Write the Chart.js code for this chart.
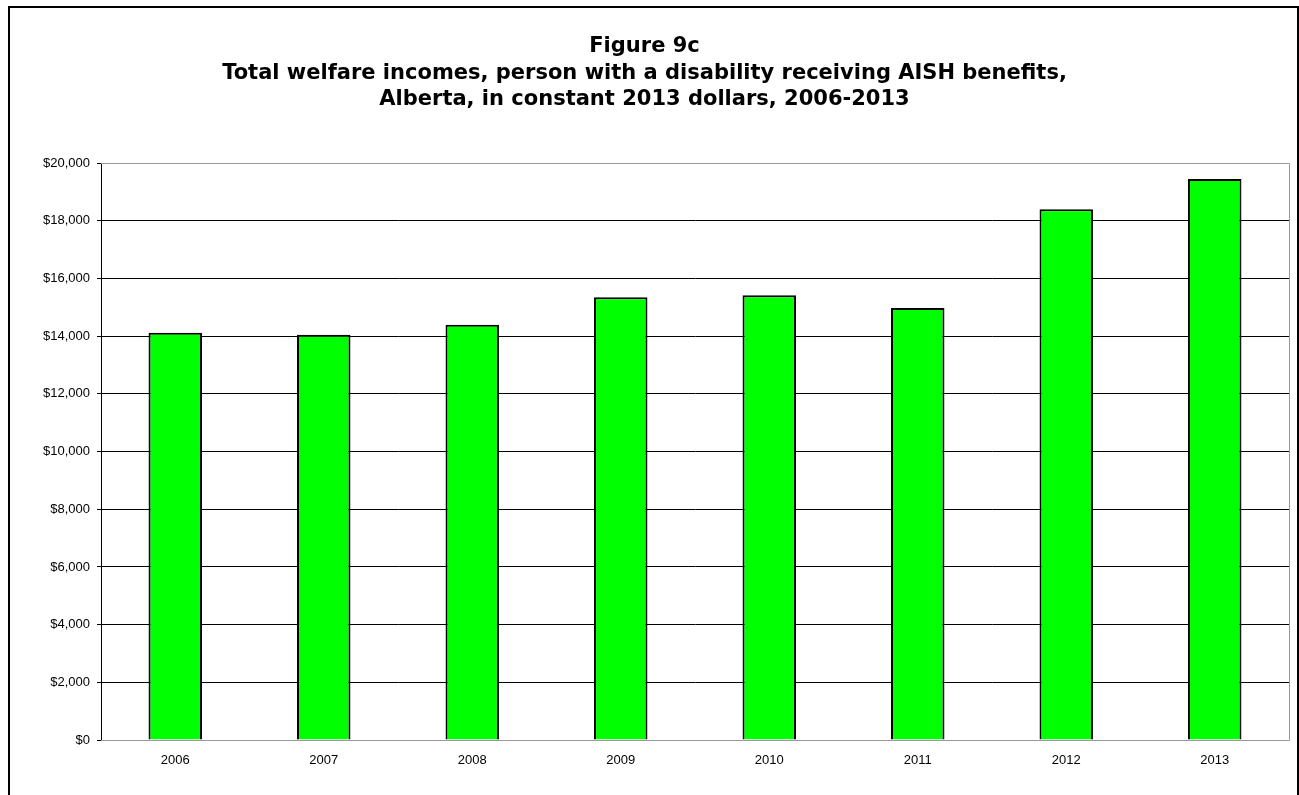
<!DOCTYPE html>
<html>
<head>
<meta charset="utf-8">
<script src="https://cdn.jsdelivr.net/npm/chart.js@4/dist/chart.umd.min.js"></script>
<style>
  html, body { margin: 0; padding: 0; background: #fff; }
  #wrap { width: 1299px; height: 795px; }
</style>
</head>
<body>
<div id="wrap"><canvas id="barChart"></canvas></div>
<script>
// values (constant 2013 dollars)
const years = ['2006', '2007', '2008', '2009', '2010', '2011', '2012', '2013'];
const welfareIncome = [14120, 14050, 14400, 15350, 15420, 14980, 18400, 19450];
const titleLines = [
  'Figure 9c',
  'Total welfare incomes, person with a disability receiving AISH benefits,',
  'Alberta, in constant 2013 dollars, 2006-2013'
];
const yMin = 0;
const yMax = 20000;
const yStep = 2000;

Chart.defaults.font.family = 'Arial, "Liberation Sans", sans-serif';
Chart.defaults.color = '#000';

// white page + frame round the whole figure
const framePlugin = {
  id: 'frame',
  beforeDraw(chart) {
    const ctx = chart.ctx;
    ctx.save();
    ctx.fillStyle = '#fff';
    ctx.fillRect(0, 0, chart.width, chart.height);
    ctx.restore();
  },
  beforeDatasetsDraw(chart) {
    // grey plot border (top, right, bottom)
    const { ctx, chartArea } = chart;
    ctx.save();
    ctx.strokeStyle = '#999';
    ctx.lineWidth = 1;
    ctx.beginPath();
    ctx.moveTo(chartArea.left, Math.round(chartArea.top) + 0.5);
    ctx.lineTo(Math.round(chartArea.right) + 0.5, Math.round(chartArea.top) + 0.5);
    ctx.lineTo(Math.round(chartArea.right) + 0.5, Math.round(chartArea.bottom) + 0.5);
    ctx.lineTo(chartArea.left, Math.round(chartArea.bottom) + 0.5);
    ctx.stroke();
    ctx.restore();
  },
  afterDraw(chart) {
    const ctx = chart.ctx;
    ctx.save();
    ctx.strokeStyle = '#000';
    ctx.lineWidth = 2;
    ctx.strokeRect(9, 7, 1289, 820);
    ctx.restore();
  }
};

const data = {
  labels: years,
  datasets: [{
    label: 'Total welfare income',
    data: welfareIncome,
    backgroundColor: '#00ff00',
    borderColor: '#000',
    borderWidth: 2,
    categoryPercentage: 1.0,
    barPercentage: 0.36
  }]
};

const config = {
  type: 'bar',
  data: data,
  options: {
    responsive: true,
    maintainAspectRatio: false,
    animation: false,
    layout: { padding: { left: 0, right: 10, top: 0, bottom: 0 } },
    plugins: {
      legend: { display: false },
      tooltip: { enabled: false },
      title: {
        display: true,
        text: titleLines,
        color: '#000',
        // wide bold face: the original title is a horizontally stretched Arial
        font: { family: '"DejaVu Sans", Arial, sans-serif', size: 21, weight: 'bold', lineHeight: 1.24 },
        padding: { top: 34, bottom: 51 }
      }
    },
    scales: {
      x: {
        grid: { display: false },
        border: { display: false },
        ticks: { font: { size: 13 }, padding: 5, maxRotation: 0 },
        afterFit(scale) { scale.height = 55; }
      },
      y: {
        min: yMin,
        max: yMax,
        ticks: {
          stepSize: yStep,
          font: { size: 13 },
          padding: 7,
          callback: v => '$' + v.toLocaleString('en-US')
        },
        grid: {
          color: ctx => (ctx.tick && (ctx.tick.value === yMax || ctx.tick.value === yMin)) ? '#999' : '#000',
          tickColor: '#000',
          tickLength: 4,
          lineWidth: 1
        },
        border: { color: '#000', width: 1 },
        afterFit(scale) { scale.width = 101; }
      }
    }
  },
  plugins: [framePlugin]
};

const barChart = new Chart(document.getElementById('barChart'), config);
</script>
</body>
</html>
